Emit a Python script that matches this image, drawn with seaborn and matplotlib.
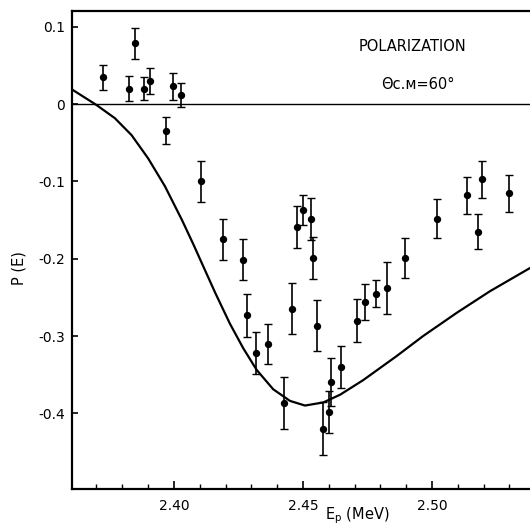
"""
Polarization P(E) versus proton energy at theta_cm = 60 deg:
measured points with error bars and the calculated curve.
"""

import matplotlib

matplotlib.use("Agg")
import matplotlib.pyplot as plt
import pandas as pd
import seaborn as sns

# --- data ---
energy_pts = [2.3726, 2.3827, 2.3849, 2.3884, 2.3908, 2.3968, 2.3995, 2.4028,
              2.4105, 2.4189, 2.4269, 2.4284, 2.4317, 2.4363, 2.4428, 2.4456,
              2.4476, 2.4501, 2.4530, 2.4539, 2.4553, 2.4576, 2.4602, 2.4610,
              2.4647, 2.4708, 2.4739, 2.4784, 2.4827, 2.4895, 2.5018, 2.5137,
              2.5179, 2.5195, 2.5298]
polar_pts = [0.035, 0.020, 0.079, 0.020, 0.030, -0.034, 0.023, 0.012,
             -0.100, -0.175, -0.201, -0.273, -0.322, -0.310, -0.387, -0.265,
             -0.159, -0.137, -0.149, -0.199, -0.287, -0.420, -0.398, -0.359,
             -0.340, -0.280, -0.256, -0.245, -0.238, -0.199, -0.148, -0.118,
             -0.165, -0.097, -0.115]
polar_err = [0.016, 0.016, 0.020, 0.015, 0.017, 0.018, 0.017, 0.016,
             0.026, 0.027, 0.027, 0.028, 0.027, 0.026, 0.034, 0.033,
             0.027, 0.019, 0.027, 0.027, 0.033, 0.034, 0.027, 0.031,
             0.027, 0.028, 0.023, 0.018, 0.034, 0.026, 0.025, 0.024,
             0.023, 0.024, 0.024]

energy_curve = [2.3601, 2.3700, 2.3771, 2.3836, 2.3900, 2.3965, 2.4030, 2.4075,
                2.4110, 2.4160, 2.4217, 2.4269, 2.4321, 2.4385, 2.4450, 2.4508,
                2.4579, 2.4644, 2.4734, 2.4863, 2.4966, 2.5096, 2.5225, 2.5380]
polar_curve = [0.020, -0.001, -0.018, -0.040, -0.070, -0.106, -0.149, -0.181,
               -0.207, -0.244, -0.284, -0.316, -0.344, -0.369, -0.384, -0.390,
               -0.386, -0.376, -0.357, -0.326, -0.300, -0.270, -0.242, -0.212]

y_ticks = [0.1, 0.0, -0.1, -0.2, -0.3, -0.4]
y_tick_labels = ["0.1", "0", "-0.1", "-0.2", "-0.3", "-0.4"]
x_ticks = [2.40, 2.45, 2.50]
x_tick_labels = ["2.40", "2.45", "2.50"]


def main():
    sns.set_style("ticks")
    plt.rcParams["font.family"] = ["DejaVu Sans"]
    for key in ("text.color", "axes.labelcolor", "xtick.color", "ytick.color",
                "axes.edgecolor"):
        plt.rcParams[key] = "black"

    df_pts = pd.DataFrame({"E": energy_pts, "P": polar_pts, "err": polar_err})
    df_curve = pd.DataFrame({"E": energy_curve, "P": polar_curve})

    fig = plt.figure(figsize=(5.3, 5.28), dpi=100)
    ax = fig.add_axes((0.1358, 0.0739, 0.8642, 0.905))

    ax.axhline(0, color="black", lw=1.0, zorder=1)
    sns.lineplot(data=df_curve, x="E", y="P", ax=ax, color="black", lw=1.6,
                 zorder=2)
    ax.errorbar(df_pts["E"], df_pts["P"], yerr=df_pts["err"], fmt="none",
                ecolor="black", elinewidth=1.2, capsize=2.8, capthick=1.0,
                zorder=3)
    sns.scatterplot(data=df_pts, x="E", y="P", ax=ax, color="black", s=28,
                    edgecolor="black", linewidth=0, zorder=4)

    ax.set_xlim(2.3605, 2.538)
    ax.set_ylim(-0.498, 0.1205)

    ax.set_yticks(y_ticks)
    ax.set_yticklabels(y_tick_labels)
    ax.set_xticks(x_ticks)
    ax.set_xticklabels(x_tick_labels)
    ax.set_xticks([2.37 + 0.01 * i for i in range(17)], minor=True)

    ax.tick_params(axis="y", direction="in", length=4.5, width=1.2,
                   labelsize=10, pad=5)
    ax.tick_params(axis="x", which="major", direction="in", length=5.5,
                   width=1.2, labelsize=10, pad=7)
    ax.tick_params(axis="x", which="minor", direction="in", length=3.5,
                   width=1.0)

    for side in ("left", "bottom", "top"):
        ax.spines[side].set_linewidth(1.6)
    ax.spines["right"].set_visible(False)

    ax.set_xlabel(None)
    ax.set_ylabel(None)

    ax.text(0.7445, 0.927, "POLARIZATION", transform=ax.transAxes,
            ha="center", va="center", fontsize=10.5)
    ax.text(0.755, 0.847, "\u0398\u1d04.\u1d0d=60\u00b0", transform=ax.transAxes,
            ha="center", va="center", fontsize=10.5)

    fig.text(0.036, 0.492, "P (E)", rotation=90, ha="center", va="center",
             fontsize=10.5)
    fig.text(0.674, 0.004, "E$_\\mathregular{p}$ (MeV)", ha="center",
             va="bottom", fontsize=10.5)

    fig.savefig("out.png", dpi=100)
    plt.close(fig)


if __name__ == "__main__":
    main()
